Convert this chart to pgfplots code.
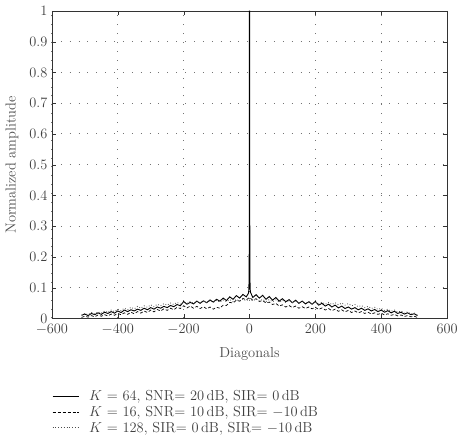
\documentclass[border=0pt]{standalone}
\usepackage{pgfplots}
\pgfplotsset{compat=1.18}
\begin{document}
\begin{tikzpicture}
\begin{axis}[
  scale only axis,
  width=396pt, height=308pt,
  xmin=-600, xmax=600, ymin=0, ymax=1,
  xtick={-600,-400,...,600},
  ytick={0,0.1,...,1.0},
  yticklabel style={/pgf/number format/fixed,/pgf/number format/precision=1},
  tick align=inside,
  major tick length=4pt,
  grid=major,
  major grid style={black!55, line width=0.9pt, dash pattern=on 0.9pt off 8pt},
  axis line style={black!80, line width=0.6pt},
  tick style={black!80},
  ticklabel style={font=\fontsize{14.5}{16}\selectfont, text=black!75},
  xticklabel style={yshift=-2pt},
  yticklabel style={xshift=-1pt},
  xlabel={Diagonals}, ylabel={Normalized amplitude},
  every axis y label/.style={at={(axis description cs:0,0.5)}, xshift=-40pt, rotate=90, anchor=center},
  every axis x label/.style={at={(axis description cs:0.5,0)}, yshift=-36pt, anchor=center},
  label style={font=\fontsize{14.5}{16}\selectfont, text=black!70},
  legend style={at={(0,-0.228)}, anchor=north west, draw=none, fill=none,
    font=\fontsize{14.5}{16}\selectfont, text=black!75, row sep=0pt, cells={anchor=west},
    inner sep=0pt},
  legend cell align=left,
  legend image code/.code={\draw[#1] (0cm,0cm) -- (0.92cm,0cm); \path (1.2cm,0cm);},
]
\addplot[black, line width=0.9pt] coordinates {
(-510,0.010) (-500,0.014) (-490,0.009) (-480,0.016) (-470,0.012) (-460,0.018) (-450,0.013) (-440,0.020) (-430,0.016) (-420,0.022)
(-410,0.017) (-400,0.024) (-390,0.019) (-380,0.027) (-370,0.022) (-360,0.028) (-350,0.024) (-340,0.030) (-330,0.026) (-320,0.033)
(-310,0.028) (-300,0.035) (-290,0.030) (-280,0.037) (-270,0.033) (-260,0.039) (-250,0.035) (-240,0.042) (-230,0.038) (-220,0.045)
(-210,0.041) (-200,0.055) (-190,0.046) (-180,0.052) (-170,0.047) (-160,0.056) (-150,0.049) (-140,0.057) (-130,0.051) (-120,0.060)
(-110,0.053) (-100,0.062) (-90,0.056) (-80,0.066) (-70,0.058) (-60,0.070) (-50,0.062) (-40,0.074) (-30,0.066) (-20,0.078)
(-10,0.070) (-3,0.082) (-2,0.095) (-1,0.150) (-0.3,1.000) (0.3,1.000) (1,0.150) (2,0.095) (3,0.085)
(10,0.068) (20,0.077) (30,0.066) (40,0.075) (50,0.062) (60,0.071) (70,0.059) (80,0.068) (90,0.056) (100,0.064)
(110,0.054) (120,0.061) (130,0.051) (140,0.059) (150,0.049) (160,0.056) (170,0.047) (180,0.054) (190,0.046) (200,0.055)
(210,0.043) (220,0.049) (230,0.040) (240,0.046) (250,0.037) (260,0.043) (270,0.034) (280,0.040) (290,0.032) (300,0.037)
(310,0.030) (320,0.035) (330,0.028) (340,0.033) (350,0.026) (360,0.031) (370,0.024) (380,0.029) (390,0.022) (400,0.027)
(410,0.020) (420,0.025) (430,0.018) (440,0.023) (450,0.016) (460,0.020) (470,0.014) (480,0.018) (490,0.012) (500,0.015) (510,0.009)
};
\addlegendentry{$K$ = 64, SNR= 20\,dB, SIR= 0\,dB}
\addplot[black, line width=0.7pt, dash pattern=on 3pt off 2pt] coordinates {
(-510,0.003) (-500,0.007) (-490,0.004) (-480,0.009) (-470,0.005) (-460,0.011) (-450,0.007) (-440,0.012) (-430,0.008) (-420,0.014)
(-410,0.010) (-400,0.016) (-390,0.012) (-380,0.018) (-370,0.013) (-360,0.020) (-350,0.015) (-340,0.022) (-330,0.017) (-320,0.024)
(-310,0.019) (-300,0.027) (-290,0.021) (-280,0.029) (-270,0.024) (-260,0.031) (-250,0.026) (-240,0.033) (-230,0.028) (-220,0.036)
(-210,0.032) (-200,0.041) (-190,0.034) (-180,0.040) (-170,0.033) (-160,0.039) (-150,0.032) (-140,0.038) (-130,0.031) (-120,0.037)
(-110,0.030) (-100,0.036) (-90,0.033) (-80,0.043) (-70,0.042) (-60,0.052) (-50,0.050) (-40,0.059) (-30,0.056) (-20,0.065)
(-10,0.060) (0,0.068) (10,0.059) (20,0.064) (30,0.055) (40,0.058) (50,0.050) (60,0.053) (70,0.045) (80,0.049)
(90,0.040) (100,0.044) (110,0.037) (120,0.042) (130,0.035) (140,0.040) (150,0.033) (160,0.038) (170,0.032) (180,0.037)
(190,0.031) (200,0.036) (210,0.029) (220,0.034) (230,0.027) (240,0.032) (250,0.025) (260,0.030) (270,0.023) (280,0.028)
(290,0.021) (300,0.026) (310,0.019) (320,0.024) (330,0.018) (340,0.022) (350,0.016) (360,0.020) (370,0.014) (380,0.018)
(390,0.013) (400,0.017) (410,0.011) (420,0.015) (430,0.010) (440,0.013) (450,0.008) (460,0.011) (470,0.006) (480,0.009)
(490,0.005) (500,0.007) (510,0.003)
};
\addlegendentry{$K$ = 16, SNR= 10\,dB, SIR= $-$10\,dB}
\addplot[black!70, line width=0.8pt, dotted] coordinates {
(-510,0.010) (-500,0.016) (-490,0.012) (-480,0.019) (-470,0.014) (-460,0.021) (-450,0.017) (-440,0.024) (-430,0.019) (-420,0.027)
(-410,0.022) (-400,0.030) (-390,0.025) (-380,0.033) (-370,0.028) (-360,0.036) (-350,0.031) (-340,0.039) (-330,0.033) (-320,0.041)
(-310,0.036) (-300,0.044) (-290,0.038) (-280,0.046) (-270,0.041) (-260,0.048) (-250,0.043) (-240,0.050) (-230,0.045) (-220,0.052)
(-210,0.046) (-200,0.053) (-190,0.048) (-180,0.055) (-170,0.049) (-160,0.056) (-150,0.050) (-140,0.057) (-130,0.051) (-120,0.058)
(-110,0.052) (-100,0.059) (-90,0.053) (-80,0.060) (-70,0.054) (-60,0.061) (-50,0.055) (-40,0.062) (-30,0.056) (-20,0.063)
(-10,0.057) (0,0.064) (10,0.057) (20,0.063) (30,0.056) (40,0.062) (50,0.055) (60,0.061) (70,0.054) (80,0.060)
(90,0.053) (100,0.059) (110,0.052) (120,0.058) (130,0.051) (140,0.057) (150,0.050) (160,0.056) (170,0.049) (180,0.055)
(190,0.048) (200,0.054) (210,0.047) (220,0.053) (230,0.046) (240,0.052) (250,0.045) (260,0.051) (270,0.044) (280,0.050)
(290,0.043) (300,0.048) (310,0.041) (320,0.045) (330,0.038) (340,0.042) (350,0.035) (360,0.039) (370,0.032) (380,0.036)
(390,0.029) (400,0.033) (410,0.026) (420,0.030) (430,0.023) (440,0.027) (450,0.020) (460,0.024) (470,0.017) (480,0.021)
(490,0.014) (500,0.017) (510,0.011)
};
\addlegendentry{$K$ = 128, SIR= 0\,dB, SIR= $-$10\,dB}
\end{axis}
\path ([xshift=-52pt,yshift=11pt]current axis.north west);
\end{tikzpicture}
\end{document}
